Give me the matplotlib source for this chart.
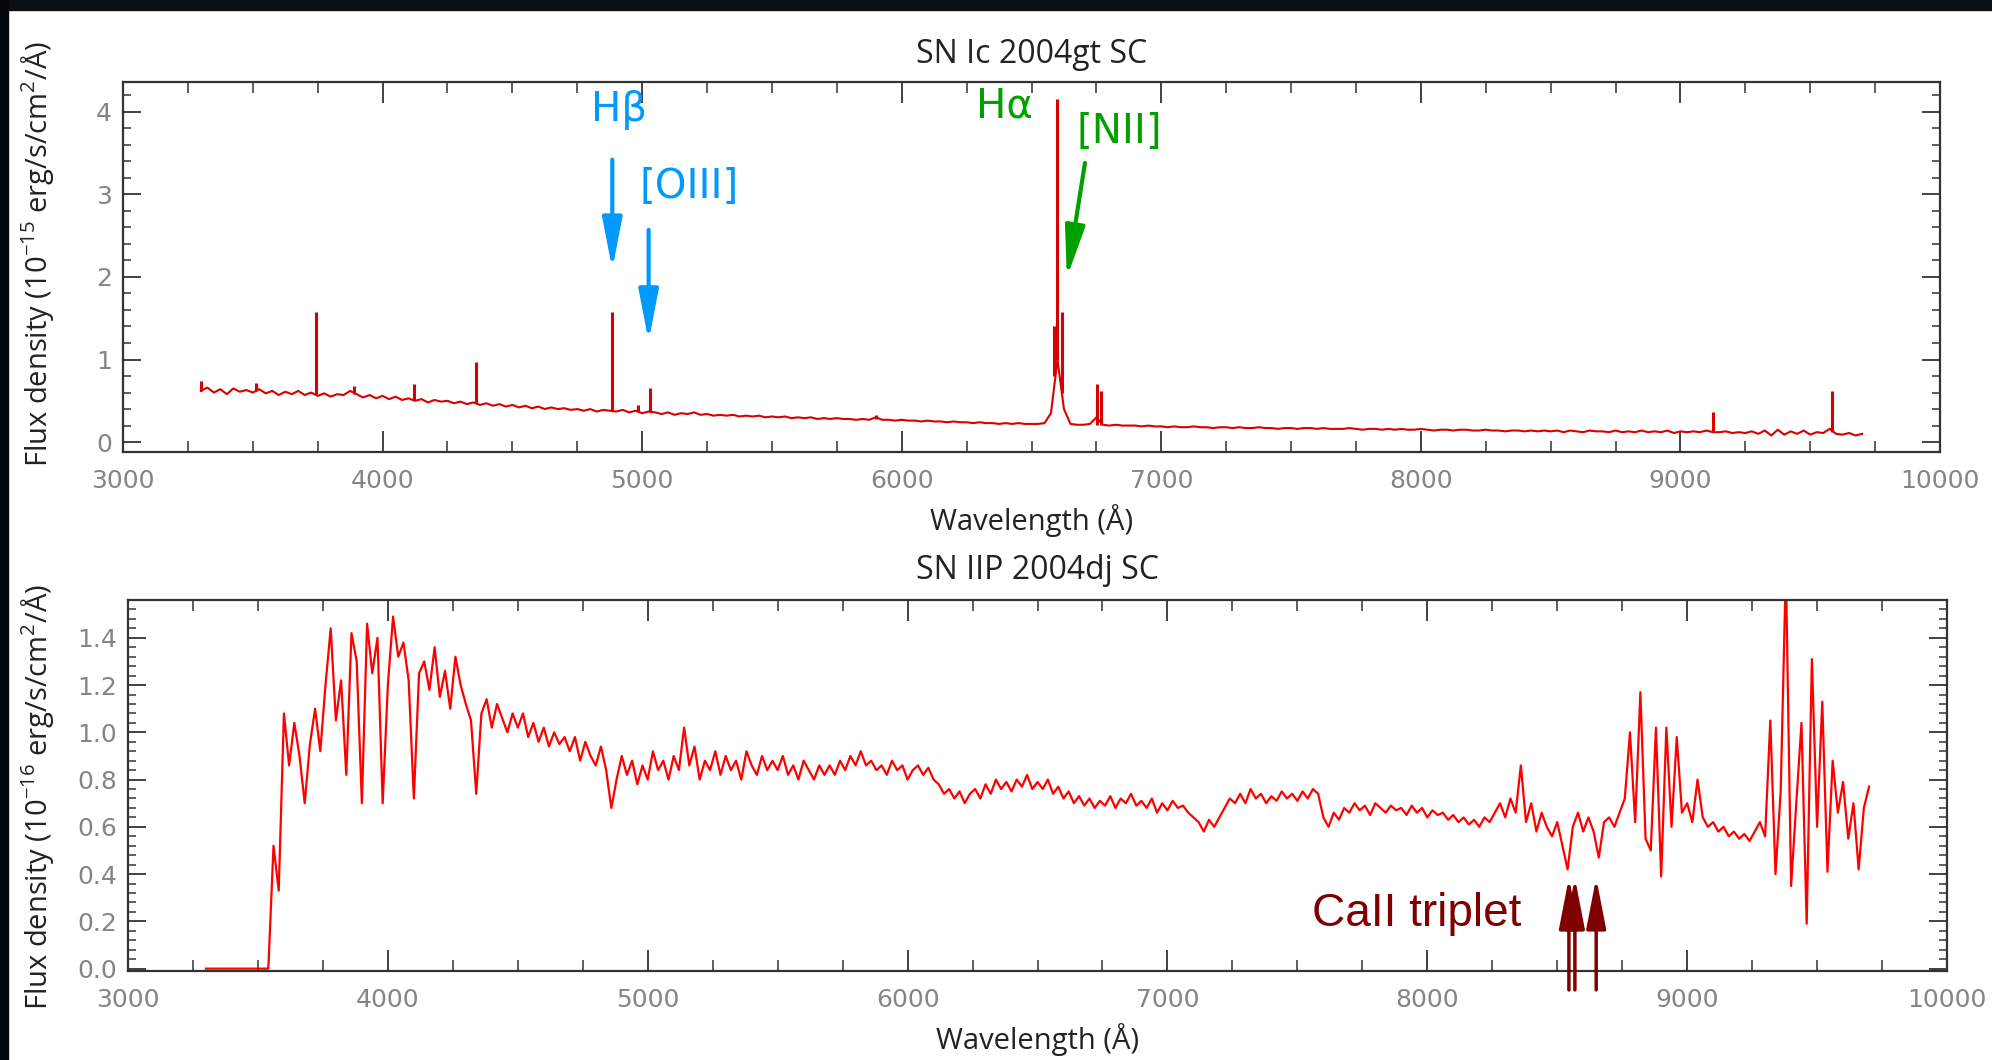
import numpy as np
import matplotlib
matplotlib.use("Agg")
import matplotlib.pyplot as plt
from matplotlib.patches import Rectangle
from matplotlib.ticker import MultipleLocator

plt.rcParams["font.family"] = ["Open Sans", "DejaVu Sans"]
plt.rcParams["mathtext.fontset"] = "custom"
plt.rcParams["mathtext.rm"] = "Open Sans"
plt.rcParams["mathtext.it"] = "Open Sans:italic"
plt.rcParams["mathtext.bf"] = "Open Sans:bold"

# ---------------------------------------------------------------------------
# SN Ic 2004gt : continuum sampled every 25 A from 3300 A, plus narrow lines
# ---------------------------------------------------------------------------
ic_start, ic_step = 3300, 25
ic_flux = [
    0.62, 0.66, 0.60, 0.64, 0.58, 0.65, 0.61, 0.63,   # 3300
    0.60, 0.64, 0.59, 0.62, 0.57, 0.61, 0.58, 0.62,   # 3500
    0.57, 0.60, 0.56, 0.59, 0.55, 0.58, 0.57, 0.62,   # 3700
    0.58, 0.54, 0.57, 0.53, 0.56, 0.52, 0.55, 0.51,   # 3900
    0.53, 0.50, 0.52, 0.48, 0.51, 0.49, 0.50, 0.47,   # 4100
    0.49, 0.46, 0.48, 0.45, 0.47, 0.44, 0.46, 0.43,   # 4300
    0.45, 0.42, 0.44, 0.41, 0.43, 0.40, 0.42, 0.40,   # 4500
    0.41, 0.39, 0.40, 0.38, 0.40, 0.37, 0.39, 0.38,   # 4700
    0.37, 0.39, 0.36, 0.38, 0.35, 0.37, 0.36, 0.34,   # 4900
    0.36, 0.33, 0.35, 0.34, 0.36, 0.33, 0.34, 0.32,   # 5100
    0.33, 0.32, 0.33, 0.31, 0.32, 0.31, 0.32, 0.30,   # 5300
    0.31, 0.30, 0.31, 0.29, 0.30, 0.29, 0.30, 0.28,   # 5500
    0.29, 0.28, 0.29, 0.28, 0.28, 0.27, 0.28, 0.27,   # 5700
    0.30, 0.27, 0.27, 0.26, 0.27, 0.26, 0.26, 0.25,   # 5900
    0.26, 0.25, 0.25, 0.24, 0.25, 0.24, 0.24, 0.23,   # 6100
    0.24, 0.23, 0.23, 0.22, 0.23, 0.22, 0.23, 0.22,   # 6300
    0.22, 0.22, 0.23, 0.35, 1.00, 0.40, 0.22, 0.21,   # 6500
    0.21, 0.22, 0.30, 0.21, 0.20, 0.21, 0.20, 0.20,   # 6700
    0.20, 0.19, 0.20, 0.19, 0.19, 0.18, 0.19, 0.18,   # 6900
    0.18, 0.19, 0.18, 0.18, 0.17, 0.18, 0.18, 0.17,   # 7100
    0.18, 0.17, 0.17, 0.18, 0.17, 0.17, 0.16, 0.17,   # 7300
    0.17, 0.16, 0.17, 0.17, 0.16, 0.17, 0.16, 0.16,   # 7500
    0.16, 0.17, 0.16, 0.15, 0.16, 0.16, 0.15, 0.16,   # 7700
    0.15, 0.16, 0.15, 0.15, 0.16, 0.15, 0.14, 0.15,   # 7900
    0.15, 0.14, 0.15, 0.15, 0.14, 0.14, 0.15, 0.14,   # 8100
    0.14, 0.13, 0.14, 0.14, 0.13, 0.14, 0.13, 0.14,   # 8300
    0.13, 0.14, 0.12, 0.14, 0.13, 0.12, 0.14, 0.13,   # 8500
    0.13, 0.12, 0.14, 0.12, 0.13, 0.12, 0.14, 0.12,   # 8700
    0.13, 0.12, 0.14, 0.11, 0.13, 0.12, 0.13, 0.12,   # 8900
    0.14, 0.12, 0.12, 0.13, 0.11, 0.12, 0.11, 0.13,   # 9100
    0.10, 0.14, 0.08, 0.15, 0.09, 0.13, 0.10, 0.14,   # 9300
    0.09, 0.12, 0.11, 0.16, 0.10, 0.09, 0.11, 0.08,   # 9500
    0.10,                                             # 9700
]
ic_line_wave = [3300, 3512, 3743, 3890, 4122, 4360, 4884, 4984, 5030, 5900,
                6588, 6598, 6619, 6752, 6766, 9125, 9583]
ic_line_base = [0.62, 0.62, 0.58, 0.58, 0.51, 0.47, 0.38, 0.36, 0.36, 0.28,
                0.80, 1.00, 0.60, 0.21, 0.21, 0.12, 0.12]
ic_line_peak = [0.74, 0.72, 1.58, 0.68, 0.70, 0.97, 1.57, 0.45, 0.65, 0.33,
                1.40, 4.15, 1.57, 0.70, 0.62, 0.36, 0.62]

# ---------------------------------------------------------------------------
# SN IIP 2004dj : sampled every 20 A from 3300 A
# ---------------------------------------------------------------------------
iip_start, iip_step = 3300, 20
iip_flux = [
    0.00, 0.00, 0.00, 0.00, 0.00, 0.00, 0.00, 0.00, 0.00, 0.00,   # 3300
    0.00, 0.00, 0.00, 0.52, 0.33, 1.08, 0.86, 1.04, 0.90, 0.70,   # 3500
    0.95, 1.10, 0.92, 1.20, 1.44, 1.05, 1.22, 0.82, 1.42, 1.30,   # 3700
    0.70, 1.46, 1.25, 1.40, 0.70, 1.20, 1.49, 1.32, 1.38, 1.22,   # 3900
    0.72, 1.25, 1.30, 1.18, 1.36, 1.15, 1.26, 1.10, 1.32, 1.20,   # 4100
    1.12, 1.05, 0.74, 1.08, 1.14, 1.02, 1.12, 1.06, 1.00, 1.08,   # 4300
    1.02, 1.08, 0.98, 1.04, 0.96, 1.02, 0.94, 1.00, 0.95, 0.98,   # 4500
    0.92, 0.98, 0.88, 0.96, 0.90, 0.86, 0.94, 0.84, 0.68, 0.80,   # 4700
    0.90, 0.82, 0.88, 0.78, 0.86, 0.80, 0.92, 0.84, 0.88, 0.80,   # 4900
    0.90, 0.84, 1.02, 0.86, 0.94, 0.80, 0.88, 0.84, 0.92, 0.82,   # 5100
    0.90, 0.84, 0.88, 0.80, 0.92, 0.86, 0.82, 0.90, 0.84, 0.88,   # 5300
    0.84, 0.90, 0.82, 0.86, 0.80, 0.88, 0.84, 0.80, 0.86, 0.82,   # 5500
    0.86, 0.82, 0.88, 0.84, 0.90, 0.86, 0.92, 0.86, 0.88, 0.84,   # 5700
    0.86, 0.82, 0.88, 0.84, 0.86, 0.80, 0.84, 0.86, 0.82, 0.85,   # 5900
    0.80, 0.78, 0.74, 0.76, 0.72, 0.75, 0.70, 0.74, 0.76, 0.72,   # 6100
    0.78, 0.74, 0.80, 0.76, 0.79, 0.75, 0.80, 0.77, 0.82, 0.76,   # 6300
    0.79, 0.76, 0.80, 0.74, 0.77, 0.72, 0.75, 0.70, 0.73, 0.69,   # 6500
    0.72, 0.68, 0.71, 0.69, 0.73, 0.68, 0.72, 0.70, 0.74, 0.69,   # 6700
    0.71, 0.68, 0.72, 0.66, 0.70, 0.67, 0.71, 0.68, 0.69, 0.66,   # 6900
    0.64, 0.62, 0.58, 0.63, 0.60, 0.64, 0.68, 0.72, 0.70, 0.74,   # 7100
    0.70, 0.76, 0.72, 0.74, 0.70, 0.73, 0.71, 0.75, 0.72, 0.74,   # 7300
    0.71, 0.75, 0.72, 0.76, 0.74, 0.64, 0.60, 0.66, 0.63, 0.68,   # 7500
    0.66, 0.70, 0.67, 0.69, 0.65, 0.70, 0.68, 0.66, 0.69, 0.67,   # 7700
    0.68, 0.65, 0.69, 0.66, 0.68, 0.64, 0.67, 0.65, 0.66, 0.63,   # 7900
    0.65, 0.62, 0.64, 0.61, 0.63, 0.60, 0.64, 0.62, 0.66, 0.70,   # 8100
    0.64, 0.72, 0.66, 0.86, 0.62, 0.70, 0.58, 0.66, 0.60, 0.56,   # 8300
    0.62, 0.52, 0.42, 0.60, 0.66, 0.58, 0.64, 0.58, 0.47, 0.62,   # 8500
    0.64, 0.60, 0.66, 0.72, 1.00, 0.62, 1.17, 0.55, 0.50, 1.02,   # 8700
    0.39, 1.02, 0.60, 0.98, 0.66, 0.70, 0.62, 0.80, 0.64, 0.60,   # 8900
    0.62, 0.58, 0.60, 0.56, 0.58, 0.55, 0.57, 0.54, 0.58, 0.62,   # 9100
    0.56, 1.05, 0.40, 0.75, 1.70, 0.35, 0.70, 1.04, 0.19, 1.31,   # 9300
    0.60, 1.13, 0.41, 0.88, 0.66, 0.79, 0.55, 0.70, 0.42, 0.68,   # 9500
    0.77,                                                         # 9700
]

# annotations: (x, y) in data units
emis_labels = ["Hβ", "[OIII]", "Hα", "[NII]"]
emis_text_x = [4911, 5180, 6394, 6837]
emis_text_y = [4.02, 3.09, 4.06, 3.76]
emis_colors = ["#0099ff", "#0099ff", "#00a000", "#00a000"]
emis_arrow_from = [(4885, 3.42), (5025, 2.57), (6706, 3.38)]
emis_arrow_to = [(4885, 2.09), (5025, 1.22), (6636, 1.99)]
emis_arrow_colors = ["#0099ff", "#0099ff", "#00a000"]

ca_wave = [8545, 8568, 8650]
ca_y_from, ca_y_to = -0.09, 0.385
ca_text_x, ca_text_y = 7960, 0.23

TICK_GRAY = "#858585"
SPINE = "#333333"


def style_axes(ax, ylim, ymajor, yminor, yfmt):
    ax.set_xlim(3000, 10000)
    ax.set_ylim(*ylim)
    ax.xaxis.set_major_locator(MultipleLocator(1000))
    ax.xaxis.set_minor_locator(MultipleLocator(250))
    ax.yaxis.set_major_locator(MultipleLocator(ymajor))
    ax.yaxis.set_minor_locator(MultipleLocator(yminor))
    ax.yaxis.set_major_formatter(plt.FormatStrFormatter(yfmt))
    ax.tick_params(axis="both", which="both", direction="in", top=True, right=True,
                   color=SPINE, labelcolor=TICK_GRAY, labelsize=18)
    ax.tick_params(axis="x", which="major", length=15, width=1.3, pad=12)
    ax.tick_params(axis="x", which="minor", length=8, width=1.1)
    ax.tick_params(axis="y", which="major", length=13, width=1.3, pad=8)
    ax.tick_params(axis="y", which="minor", length=6, width=1.1)
    for lab in ax.get_xticklabels() + ax.get_yticklabels():
        lab.set_family("DejaVu Sans")
    for sp in ax.spines.values():
        sp.set_color(SPINE)
        sp.set_linewidth(1.6)
    ax.set_xlabel("Wavelength (Å)", fontsize=21, color="#222222", labelpad=8)


def arrow(ax, start, tip, color, lw, hl, hw):
    ax.annotate("", xy=tip, xytext=start, annotation_clip=False,
                arrowprops=dict(arrowstyle=f"-|>,head_length={hl},head_width={hw}",
                                color=color, lw=lw, shrinkA=0, shrinkB=0,
                                mutation_scale=10))


fig = plt.figure(figsize=(19.92, 10.60), dpi=100)
fig.patch.set_facecolor("white")

# --- top panel -------------------------------------------------------------
ax1 = fig.add_axes([0.06175, 0.57358, 0.91215, 0.34906])
ic_wave = ic_start + ic_step * np.arange(len(ic_flux))
ax1.plot(ic_wave, ic_flux, color="#d80000", lw=1.5)
ax1.vlines(ic_line_wave, ic_line_base, ic_line_peak, color="#d80000", lw=2.2)
style_axes(ax1, (-0.12, 4.36), 1, 0.2, "%d")
ax1.set_title("SN Ic 2004gt SC", fontsize=23, color="#222222", pad=14)

for lab, x, y, c in zip(emis_labels, emis_text_x, emis_text_y, emis_colors):
    ax1.text(x, y, lab, color=c, fontsize=29, ha="center", va="center",
             family="DejaVu Sans")
for s, t, c in zip(emis_arrow_from, emis_arrow_to, emis_arrow_colors):
    arrow(ax1, s, t, c, lw=3, hl=3.1, hw=0.6)

# --- bottom panel ----------------------------------------------------------
ax2 = fig.add_axes([0.06426, 0.08396, 0.91315, 0.35])
iip_wave = iip_start + iip_step * np.arange(len(iip_flux))
ax2.plot(iip_wave, iip_flux, color="#ff0000", lw=1.6)
style_axes(ax2, (-0.01, 1.56), 0.2, 0.04, "%.1f")
ax2.set_title("SN IIP 2004dj SC", fontsize=23, color="#222222", pad=15)

for w in ca_wave:
    arrow(ax2, (w, ca_y_from), (w, ca_y_to), "#7f0000", lw=2.5, hl=3.1, hw=0.6)
ax2.text(ca_text_x, ca_text_y, "CaII triplet", color="#7f0000", fontsize=33,
         ha="center", va="center", family="Liberation Sans")

# y labels
fig.text(0.0186, 0.7604, r"Flux density (10$^{-15}$ erg/s/cm$^{2}$/Å)",
         rotation=90, ha="center", va="center", fontsize=21, color="#222222")
fig.text(0.0186, 0.248, r"Flux density (10$^{-16}$ erg/s/cm$^{2}$/Å)",
         rotation=90, ha="center", va="center", fontsize=21, color="#222222")

# dark frame along the top and left edge
fig.add_artist(Rectangle((0, 1 - 10 / 1060), 1, 10 / 1060, transform=fig.transFigure,
                         color="#0b1016", zorder=10))
fig.add_artist(Rectangle((0, 0), 8 / 1992, 1, transform=fig.transFigure,
                         color="#05080b", zorder=10))

fig.savefig("out.png", dpi=100)
